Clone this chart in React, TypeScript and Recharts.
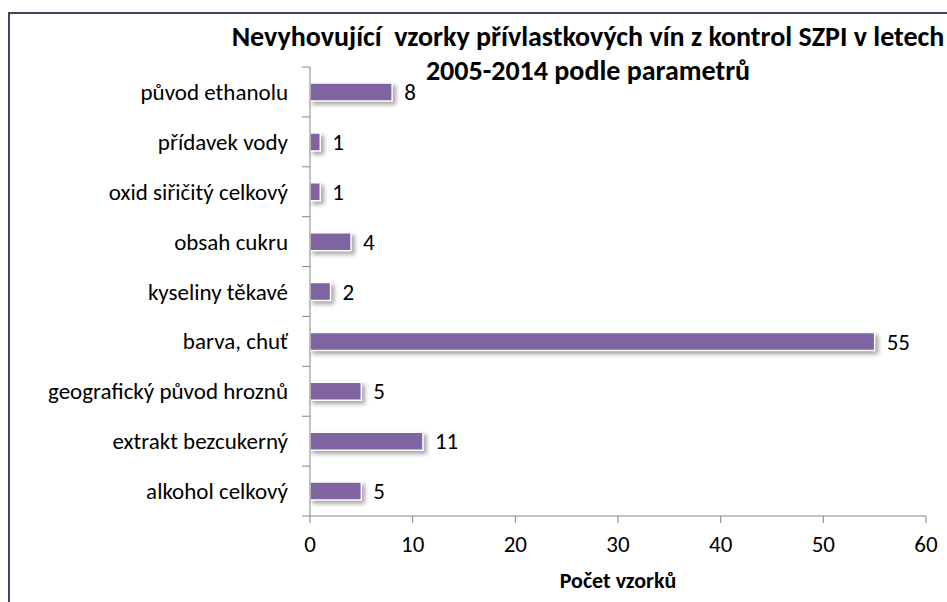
import { BarChart, Bar, XAxis, YAxis, LabelList } from "recharts";

const categories = [
  "původ ethanolu",
  "přídavek vody",
  "oxid siřičitý celkový",
  "obsah cukru ",
  "kyseliny těkavé",
  "barva, chuť",
  "geografický původ hroznů",
  "extrakt bezcukerný",
  "alkohol celkový",
];
const counts = [8, 1, 1, 4, 2, 55, 5, 11, 5];
const xTicks = [0, 10, 20, 30, 40, 50, 60];

const data = categories.map((name, i) => ({ name, value: counts[i] }));

const FONT = 'Carlito, Calibri, Lato, "Open Sans", sans-serif';
const WIDTH = 947;
const HEIGHT = 602;
const MARGIN = { top: 67, right: 21, bottom: 14, left: 0 };
const X_AXIS_H = 72;
const Y_AXIS_W = 310;
const BAND = (HEIGHT - MARGIN.top - MARGIN.bottom - X_AXIS_H) / categories.length;

const CategoryTick = ({ x, y, payload, index }: any) => {
  const axisX = x + 22;
  return (
    <g>
      <line x1={axisX - 8} x2={axisX} y1={y - BAND / 2} y2={y - BAND / 2} stroke="#868686" />
      {index === categories.length - 1 && (
        <line x1={axisX - 8} x2={axisX} y1={y + BAND / 2} y2={y + BAND / 2} stroke="#868686" />
      )}
      <text x={x} y={y} textAnchor="end" dominantBaseline="central" fontSize={23} fill="#000">
        {payload.value}
      </text>
    </g>
  );
};

export default function App() {
  return (
    <div style={{ position: "absolute", left: 0, top: 0, width: WIDTH, height: HEIGHT, background: "#fff", fontFamily: FONT }}>
      <div
        style={{
          position: "absolute",
          left: 8,
          top: 12,
          width: WIDTH,
          height: HEIGHT,
          borderTop: "2px solid #4b3f5e",
          borderLeft: "2px solid #4b3f5e",
        }}
      />
      <div
        style={{
          position: "absolute",
          left: 228,
          width: 720,
          top: 20,
          textAlign: "center",
          fontWeight: "bold",
          fontSize: 28,
          lineHeight: "34px",
          color: "#000",
          whiteSpace: "pre",
        }}
      >
        {"Nevyhovující  vzorky přívlastkových vín z kontrol SZPI v letech"}
        <br />
        2005-2014 podle parametrů
      </div>
      <BarChart
        width={WIDTH}
        height={HEIGHT}
        data={data}
        layout="vertical"
        margin={MARGIN}
        style={{ fontFamily: FONT }}
      >
        <XAxis
          type="number"
          domain={[0, 60]}
          ticks={xTicks}
          height={X_AXIS_H}
          stroke="#868686"
          tickSize={7}
          tickMargin={13}
          tick={{ fill: "#000", fontSize: 23 }}
          label={{ value: "Počet vzorků", position: "insideBottom", offset: 0, fill: "#000", fontSize: 22, fontWeight: "bold" }}
        />
        <YAxis
          type="category"
          dataKey="name"
          width={Y_AXIS_W}
          stroke="#868686"
          tickLine={false}
          tickSize={0}
          tickMargin={22}
          tick={<CategoryTick />}
          interval={0}
        />
        <Bar
          dataKey="value"
          fill="#8064a2"
          stroke="#ffffff"
          strokeWidth={1.5}
          barSize={18}
          isAnimationActive={false}
          style={{ filter: "drop-shadow(3px 3px 2px rgba(0,0,0,0.35))" }}
        >
          <LabelList dataKey="value" position="right" offset={12} fill="#000" fontSize={23} />
        </Bar>
      </BarChart>
    </div>
  );
}
